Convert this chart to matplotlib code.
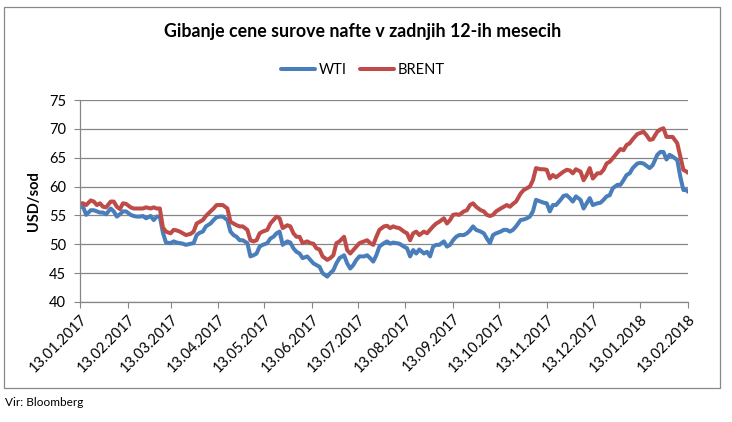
import numpy as np
import pandas as pd
import matplotlib
matplotlib.use('Agg')
import matplotlib.pyplot as plt
from matplotlib.patches import Rectangle

plt.rcParams['font.family'] = ['Lato', 'DejaVu Sans']

# podatki odčitani s slike (dnevi od 13.01.2017)
start_date = '2017-01-13'
days_since_start = [
    0, 2, 4, 7, 9, 11, 13, 15, 17, 20, 22, 24, 26, 28, 30, 33, 35, 37, 39, 41,
    43, 46, 48, 50, 52, 54, 56, 59, 61, 63, 65, 67, 69, 72, 74, 76, 78, 80, 82, 85,
    87, 89, 91, 93, 96, 98, 100, 102, 104, 106, 109, 111, 113, 115, 117, 119, 122, 124, 126, 128,
    130, 132, 135, 137, 139, 141, 143, 145, 148, 150, 152, 154, 156, 158, 161, 163, 165, 167, 169, 172,
    174, 176, 178, 180, 182, 185, 187, 189, 191, 193, 195, 198, 200, 202, 204, 206, 208, 211, 213, 215,
    217, 219, 221, 224, 226, 228, 230, 232, 234, 237, 239, 241, 243, 245, 247, 250, 252, 254, 256, 258,
    261, 263, 265, 267, 269, 271, 274, 276, 278, 280, 282, 284, 287, 289, 291, 293, 295, 297, 300, 302,
    304, 306, 308, 310, 313, 315, 317, 319, 321, 323, 326, 328, 330, 332, 334, 337, 339, 341, 343, 345,
    347, 350, 352, 354, 356, 358, 360, 363, 365, 367, 369, 371, 373, 376, 378, 380, 382, 384, 386, 389,
    391, 393, 395, 396]

wti = [
    56.4, 56.5, 55.1, 55.9, 55.9, 55.7, 55.5, 55.5, 55.2, 56.2, 55.7, 54.8, 55.2, 55.7, 55.7, 55.1, 54.9, 54.8, 54.8, 54.9,
    54.5, 54.9, 54.2, 54.8, 54.8, 52.0, 50.3, 50.2, 50.5, 50.3, 50.2, 50.1, 49.9, 50.1, 50.2, 51.6, 52.0, 52.2, 53.1, 53.6,
    54.2, 54.7, 54.8, 54.8, 54.2, 52.2, 51.6, 51.3, 50.7, 50.7, 50.2, 47.9, 48.1, 48.4, 49.6, 49.9, 50.2, 51.0, 51.3, 51.9,
    52.2, 49.9, 50.5, 50.3, 49.3, 48.7, 48.4, 47.6, 47.9, 47.3, 46.7, 46.4, 46.1, 45.0, 44.4, 45.0, 45.5, 46.7, 47.6, 48.1,
    46.7, 45.8, 46.4, 47.3, 47.9, 47.9, 48.1, 47.6, 47.0, 48.1, 49.6, 50.2, 50.5, 50.1, 50.3, 50.2, 50.1, 49.6, 49.3, 47.9,
    49.0, 48.4, 49.1, 48.4, 48.7, 47.9, 49.6, 49.9, 49.9, 50.5, 49.6, 49.9, 50.7, 51.3, 51.6, 51.6, 51.9, 52.4, 53.1, 52.5,
    52.2, 51.9, 51.0, 50.2, 51.6, 51.9, 52.2, 52.5, 52.5, 52.2, 52.5, 53.1, 54.2, 54.3, 54.5, 54.8, 55.7, 57.7, 57.4, 57.2,
    57.1, 55.7, 56.8, 56.8, 57.7, 58.4, 58.5, 58.0, 57.4, 58.3, 57.7, 56.2, 57.1, 58.0, 56.8, 57.1, 57.2, 57.7, 58.3, 58.5,
    59.7, 60.3, 60.3, 61.1, 62.0, 62.3, 63.2, 64.0, 64.1, 64.0, 63.6, 63.2, 63.7, 65.5, 66.0, 66.0, 64.7, 65.5, 65.2, 64.6,
    61.7, 59.4, 59.4, 59.1]

brent = [
    57.1, 57.1, 56.8, 57.6, 57.4, 56.8, 57.1, 56.5, 56.4, 57.4, 57.4, 56.5, 56.1, 57.1, 57.0, 56.4, 56.2, 56.2, 56.2, 56.2,
    56.4, 56.2, 56.4, 56.2, 56.2, 52.9, 52.2, 51.9, 52.5, 52.4, 52.2, 51.9, 51.6, 51.8, 52.2, 53.6, 53.9, 54.2, 54.9, 55.7,
    56.2, 56.8, 56.8, 56.8, 56.2, 53.9, 53.6, 53.3, 53.1, 53.1, 52.5, 50.7, 50.5, 50.7, 51.9, 52.2, 52.5, 53.6, 54.2, 54.8,
    54.5, 52.8, 53.3, 53.1, 51.9, 51.3, 51.3, 50.2, 50.5, 50.2, 50.1, 49.3, 49.1, 47.9, 47.3, 47.6, 48.1, 50.2, 50.5, 51.3,
    49.0, 48.4, 49.0, 49.6, 50.2, 50.5, 50.7, 50.2, 49.9, 51.3, 52.5, 53.1, 53.2, 52.8, 53.1, 52.9, 52.8, 52.2, 51.9, 50.7,
    51.9, 52.2, 51.6, 52.2, 51.9, 52.5, 53.1, 53.6, 53.9, 54.5, 53.6, 54.2, 55.1, 55.2, 55.1, 55.7, 55.9, 56.8, 57.1, 56.5,
    55.9, 55.7, 55.1, 54.9, 55.1, 55.7, 56.2, 56.5, 56.8, 56.5, 57.0, 57.4, 58.8, 59.4, 59.7, 60.0, 61.1, 63.2, 63.0, 63.0,
    62.9, 61.4, 62.0, 61.6, 62.2, 62.6, 62.9, 62.8, 62.3, 63.0, 62.6, 61.1, 62.0, 63.2, 61.4, 62.3, 62.3, 62.9, 64.0, 64.3,
    64.9, 65.9, 66.5, 66.3, 67.2, 67.5, 68.2, 69.1, 69.3, 69.5, 68.9, 68.1, 68.2, 69.5, 69.9, 70.1, 68.6, 68.6, 68.6, 67.5,
    65.2, 62.9, 62.6, 62.4]

tick_dates = ['2017-01-13', '2017-02-13', '2017-03-13', '2017-04-13', '2017-05-13', '2017-06-13',
              '2017-07-13', '2017-08-13', '2017-09-13', '2017-10-13', '2017-11-13', '2017-12-13',
              '2018-01-13', '2018-02-13']

dates = pd.to_datetime(start_date) + pd.to_timedelta(days_since_start, unit='D')
ticks = pd.to_datetime(tick_dates)

fig = plt.figure(figsize=(7.32, 4.22), dpi=100)
ax = fig.add_axes([80 / 732, 1 - 302 / 422, 608 / 732, 202 / 422])

ax.plot(dates, wti, color='#4A7EBB', lw=2.9, label='WTI', solid_capstyle='round')
ax.plot(dates, brent, color='#BE4B48', lw=2.9, label='BRENT', solid_capstyle='round')

ax.set_ylim(40, 75)
ax.set_yticks(np.arange(40, 76, 5))
ax.set_xlim(ticks[0], ticks[-1])
ax.set_xticks(ticks)
ax.set_xticklabels([d.strftime('%d.%m.%Y') for d in ticks], rotation=45, ha='right',
                   rotation_mode='anchor', fontsize=10.5)
ax.tick_params(axis='y', labelsize=10.5, length=4, color='#868686', pad=6)
ax.tick_params(axis='x', length=4, color='#868686', pad=3)
ax.grid(axis='y', color='#868686', lw=0.9)
ax.set_axisbelow(True)
for s in ['top', 'right']:
    ax.spines[s].set_visible(False)
for s in ['left', 'bottom']:
    ax.spines[s].set_color('#868686')
    ax.spines[s].set_linewidth(0.9)

ax.set_ylabel('USD/sod', fontsize=10.5, fontweight='bold', labelpad=6)

fig.text(363 / 732, 1 - 31 / 422, 'Gibanje cene surove nafte v zadnjih 12-ih mesecih',
         ha='center', va='center', fontsize=12.8, fontweight='bold')
fig.legend(loc='center', bbox_to_anchor=(363 / 732, 1 - 70 / 422), ncol=2, frameon=False,
           fontsize=10.5, handlelength=2.3, columnspacing=0.9, handletextpad=0.3)

fig.text(5 / 732, 1 - 403 / 422, 'Vir: Bloomberg', ha='left', va='center', fontsize=8.5)

fig.patches.append(Rectangle((4 / 732, 1 - 388 / 422), 716 / 732, 381 / 422,
                             transform=fig.transFigure, fill=False, edgecolor='#888888', lw=0.9))

fig.savefig('out.png', dpi=100)
